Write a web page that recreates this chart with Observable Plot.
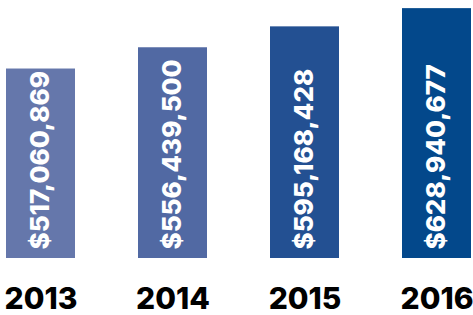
<!DOCTYPE html>
<html>
<head>
<meta charset="utf-8">
<script src="https://cdn.jsdelivr.net/npm/d3@7"></script>
<script src="https://cdn.jsdelivr.net/npm/@observablehq/plot@0.6"></script>
<style>
  html, body { margin: 0; padding: 0; background: #fff; }
  #chart svg { display: block; }
</style>
</head>
<body>
<div id="chart"></div>
<script>
const years = ["2013", "2014", "2015", "2016"];
const amounts = [517060869, 556439500, 595168428, 628940677];
const labels = ["$517,060,869", "$556,439,500", "$595,168,428", "$628,940,677"];
const colors = ["#6577ab", "#5169a3", "#235092", "#03488b"];
const yMin = 166e6;
const yMax = 644e6;

const data = years.map((y, i) => ({year: y, amount: amounts[i], label: labels[i], color: colors[i]}));

const font = "Inter, 'DejaVu Sans', sans-serif";

const chart = Plot.plot({
  width: 473,
  height: 315,
  marginLeft: 5,
  marginRight: 1,
  marginTop: 0,
  marginBottom: 57,
  style: {fontFamily: font, background: "#fff"},
  x: {domain: years, paddingInner: 0.48, paddingOuter: 0, label: null},
  y: {domain: [yMin, yMax], axis: null},
  marks: [
    Plot.barY(data, {x: "year", y1: yMin, y2: "amount", fill: "color"}),
    Plot.text(data, {
      x: "year", y: yMin, text: "label", rotate: -90, textAnchor: "start",
      dy: -9, fill: "#fff", fontSize: 26, fontWeight: 800
    }),
    Plot.axisX({tickSize: 0, tickPadding: 29, fontSize: 30, fontWeight: 800, fill: "#000", label: null})
  ]
});
document.getElementById("chart").appendChild(chart);
</script>
</body>
</html>
